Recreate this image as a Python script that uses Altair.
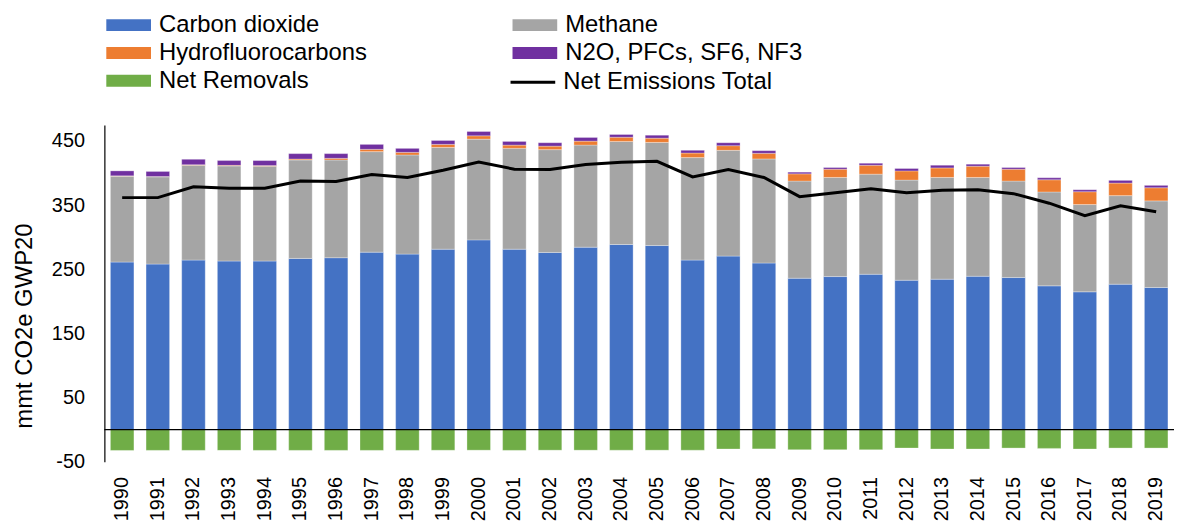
import altair as alt
import pandas as pd

years = [str(y) for y in range(1990, 2020)]
co2 = [261.2, 258.1, 264.3, 262.8, 262.8, 266.9, 268.0, 276.7, 273.6, 281.3,
       295.8, 281.3, 276.2, 284.4, 288.6, 287.0, 264.3, 270.5, 259.7, 236.0,
       238.6, 242.2, 232.9, 234.5, 239.1, 237.1, 224.1, 214.8, 226.7, 221.6]
methane = [134.0, 136.0, 147.9, 148.3, 147.9, 153.5, 152.4, 156.7, 154.6, 158.7,
           157.1, 157.2, 160.3, 159.2, 160.7, 160.8, 159.8, 164.9, 162.3, 151.5,
           154.6, 156.1, 156.1, 158.7, 154.1, 150.4, 146.4, 136.1, 138.1, 135.0]
hfc = [0.5, 0.5, 0.8, 0.9, 1.0, 1.5, 2.6, 3.6, 4.1, 4.7,
       5.2, 5.1, 5.5, 6.2, 6.6, 6.6, 7.1, 7.3, 8.8, 11.3,
       12.8, 13.9, 14.4, 14.8, 17.5, 18.5, 19.0, 20.0, 19.6, 20.5]
n2o_other = [7.7, 7.9, 8.5, 7.5, 7.8, 8.4, 7.3, 7.7, 6.2, 6.1,
             6.7, 5.7, 5.3, 5.7, 4.2, 4.6, 4.2, 4.6, 4.1, 2.6,
             2.6, 3.1, 3.7, 4.2, 3.1, 2.6, 3.1, 3.1, 4.2, 3.7]
net_removals = [-32.5, -32.4, -32.4, -32.4, -32.4, -32.4, -32.4, -32.4, -32.4, -32.2,
                -32.1, -32.4, -32.1, -32.1, -32.1, -32.1, -32.1, -30.3, -30.1, -31.4,
                -31.4, -31.4, -28.8, -30.3, -30.3, -28.8, -29.3, -30.3, -28.8, -28.8]
net_total = [361.7, 361.7, 378.7, 376.2, 376.2, 387.5, 387.0, 397.8, 393.1, 404.5,
             417.3, 406.0, 405.6, 413.3, 416.8, 418.4, 394.1, 405.6, 393.2, 363.2,
             369.4, 375.6, 369.4, 373.1, 374.0, 367.9, 353.0, 333.4, 348.8, 339.6]

series_names = ["Carbon dioxide", "Methane", "Hydrofluorocarbons",
                "N2O, PFCs, SF6, NF3", "Net Removals"]
series_colors = ["#4472C4", "#A5A5A5", "#ED7D31", "#7030A0", "#70AD47"]
line_name = "Net Emissions Total"
y_ticks = [-50, 50, 150, 250, 350, 450]

# legend fills column by column: order entries so rows read as in the reference
legend_order = [0, 2, 4, 1, 3]
legend_domain = [series_names[i] for i in legend_order]
legend_range = [series_colors[i] for i in legend_order]

series_values = [co2, methane, hfc, n2o_other, net_removals]
rows = []
for i, yr in enumerate(years):
    for k, vals in enumerate(series_values):
        rows.append({"year": yr, "gas": series_names[k], "value": vals[i], "order": k})
bars_df = pd.DataFrame(rows)
line_df = pd.DataFrame({"year": years, "total": net_total, "series": [line_name] * len(years)})
zero_df = pd.DataFrame({"v": [0]})

FONT = "Liberation Sans"
rect_path = "M-1.67,-1H5.83V1H-1.67Z"
line_path = "M-1.67,0H5.83"

x_enc = alt.X(
    "year:O", title=None,
    scale=alt.Scale(paddingInner=0.34, paddingOuter=0.17),
    axis=alt.Axis(labelAngle=270, labelFontSize=20, labelPadding=15, ticks=False,
                  tickSize=0, domain=False, labelColor="black", labelFont=FONT),
)
y_scale = alt.Scale(domain=[-50, 475], nice=False, zero=False)

bars = alt.Chart(bars_df).mark_bar(stroke="white", strokeWidth=0.6, strokeOpacity=0.5).encode(
    x=x_enc,
    y=alt.Y("value:Q", stack="zero", scale=y_scale,
            axis=alt.Axis(values=y_ticks, title="mmt CO2e GWP20", grid=False,
                          labelExpr="'' + datum.value",
                          ticks=False, tickSize=0, labelPadding=20, labelFontSize=20,
                          labelColor="black", labelFont=FONT, domainColor="#404040",
                          domainWidth=1.6, titleFontSize=24, titleFontWeight="normal",
                          titleColor="black", titleFont=FONT, titleX=-68, titleY=202)),
    color=alt.Color("gas:N", scale=alt.Scale(domain=legend_domain, range=legend_range),
                    legend=alt.Legend(orient="none", legendX=0, legendY=-112.5, columns=2,
                                      title=None, symbolType=rect_path, symbolSize=144,
                                      symbolStrokeWidth=0, symbolOpacity=1, labelOffset=31,
                                      labelFontSize=24, labelFont=FONT, labelColor="black",
                                      rowPadding=4, columnPadding=144, padding=0,
                                      labelLimit=500)),
    order=alt.Order("order:Q", sort="ascending"),
)

zero_rule = alt.Chart(zero_df).mark_rule(color="black", strokeWidth=1.3).encode(
    y=alt.Y("v:Q", scale=y_scale)
)

line = alt.Chart(line_df).mark_line(strokeWidth=3).encode(
    x=alt.X("year:O"),
    y=alt.Y("total:Q", scale=y_scale),
    stroke=alt.Stroke("series:N", scale=alt.Scale(domain=[line_name], range=["black"]),
                      legend=alt.Legend(orient="none", legendX=407, legendY=-55,
                                        title=None, symbolType=line_path, symbolSize=144,
                                        symbolStrokeWidth=3, labelOffset=31,
                                        labelFontSize=24, labelFont=FONT,
                                        labelColor="black", padding=0, labelLimit=500)),
)

chart = alt.layer(bars, zero_rule, line).properties(
    width=1077, height=339,
    autosize=alt.AutoSizeParams(type="none"),
    padding={"left": 97, "top": 116, "right": 0, "bottom": 60},
).configure_view(stroke=None)

chart.save("out.html", embed_options={"renderer": "svg", "actions": False})
